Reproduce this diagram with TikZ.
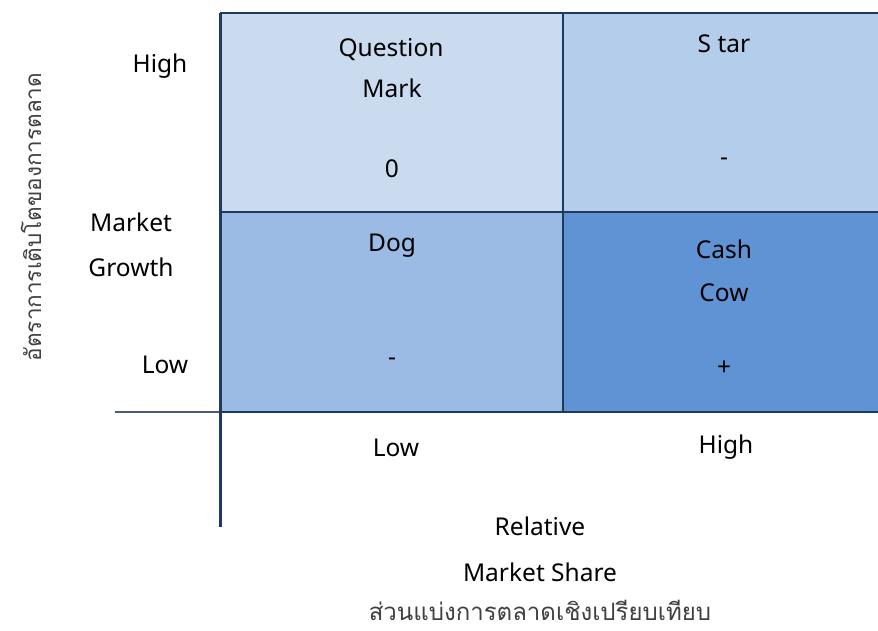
\documentclass[tikz,border=0pt]{standalone}
\usepackage{fontspec}
\setmainfont{Noto Sans}
\newfontfamily\thaifont[Script=Thai]{Loma}
\definecolor{qfill}{HTML}{CADBF0}
\definecolor{sfill}{HTML}{B3CDEB}
\definecolor{dfill}{HTML}{9BBBE4}
\definecolor{cfill}{HTML}{6093D4}
\definecolor{edge}{HTML}{1F3A60}
\definecolor{axisgray}{HTML}{4A5E7A}
\tikzset{
  cell/.style={anchor=north west, inner sep=0pt, minimum width=343pt, minimum height=200pt, draw=none},
  lbl/.style={inner sep=0pt, font=\fontsize{24.5}{28}\selectfont, text=black},
  thai/.style={inner sep=0pt, font=\thaifont\fontsize{24}{28}\selectfont, text=black!75},
  vthai/.style={inner sep=0pt, font=\thaifont\fontsize{22.5}{26}\selectfont, text=black!75},
  grid/.style={draw=edge, line width=2.2pt},
}
\begin{document}
\begin{tikzpicture}[x=1pt,y=-1pt]
\useasboundingbox (0,0) rectangle (878,630);
\clip (0,0) rectangle (878,630);
\fill[white] (0,0) rectangle (878,630);
% cells
\node[cell, fill=qfill] (qm) at (220,13) {};
\node[cell, fill=sfill] (st) at (563,13) {};
\node[cell, fill=dfill] (dg) at (220,212) {};
\node[cell, fill=cfill] (cc) at (563,212) {};
% grid lines
\coordinate (tl) at (220,13);
\coordinate (tr) at (890,13);
\coordinate (ml) at (220,212);
\coordinate (mr) at (890,212);
\coordinate (bl) at (220,412);
\coordinate (br) at (890,412);
\coordinate (mt) at (563,13);
\coordinate (mb) at (563,412);
\coordinate (axl) at (115,412);
\coordinate (axb) at (220,527);
\draw[grid, line width=2.6pt] (tl) -- (tr);
\draw[grid] (ml) -- (mr);
\draw[grid] (bl) -- (br);
\draw[grid] (mt) -- (mb);
\draw[draw=axisgray, line width=1.4pt] (axl) -- (bl);
\draw[grid, line width=3pt] (tl) -- (axb);
% cell texts
\node[lbl] (q1) at (391,50) {Question};
\node[lbl] (q2) at (392,88) {Mark};
\node[lbl] (q3) at (392,169) {0};
\node[lbl] (s1) at (724,44) {S tar};
\node[lbl] (s2) at (724,162) {-};
\node[lbl] (d1) at (392,246) {Dog};
\node[lbl] (d2) at (392,362) {-};
\node[lbl] (c1) at (724,249) {Cash};
\node[lbl] (c2) at (724,293) {Cow};
\node[lbl] (c3) at (724,368) {+};
% axis labels
\node[lbl] (yh) at (160,66) {High};
\node[lbl] (ym1) at (131,222) {Market};
\node[lbl] (ym2) at (131,267) {Growth};
\node[lbl] (yl) at (165,365) {Low};
\node[lbl] (xl) at (396,448) {Low};
\node[lbl] (xh) at (726,447) {High};
\node[lbl] (xr1) at (540,526) {Relative};
\node[lbl] (xr2) at (540,572) {Market Share};
\node[thai] (xt) at (540,610) {ส่วนแบ่งการตลาดเชิงเปรียบเทียบ};
\node[vthai, rotate=90] (yt) at (31,217) {อัตราการเติบโตของการตลาด};
\end{tikzpicture}
\end{document}
